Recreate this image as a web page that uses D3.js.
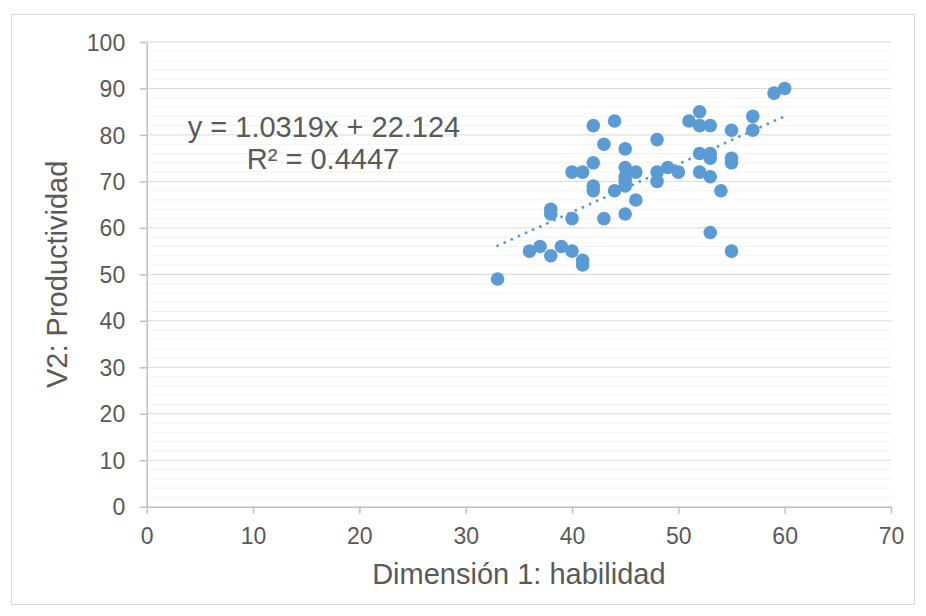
<!DOCTYPE html>
<html>
<head>
<meta charset="utf-8">
<script src="https://cdn.jsdelivr.net/npm/d3@7"></script>
<style>
body{margin:0;background:#fff;}
text{font-family:"Liberation Sans",Arial,sans-serif;}
</style>
</head>
<body>
<svg id="chart" width="926" height="616"></svg>
<script>
const xValues = [33,36,37,38,38,38,39,40,40,40,41,41,41,42,42,42,42,43,43,44,44,45,45,45,45,45,45,46,46,48,48,48,49,50,51,52,52,52,52,53,53,53,53,53,54,55,55,55,55,57,57,59,60];
const yValues = [49,55,56,54,63,64,56,55,62,72,53,52,72,82,74,69,68,78,62,83,68,77,73,71,70,69,63,72,66,79,72,70,73,72,83,85,82,76,72,82,76,75,71,59,68,81,75,74,55,84,81,89,90];
const xTicks = [0,10,20,30,40,50,60,70];
const yTicks = [0,10,20,30,40,50,60,70,80,90,100];
const slope = 1.0319, intercept = 22.124, r2 = 0.4447;
const xTitle = "Dimensión 1: habilidad";
const yTitle = "V2: Productividad";
const eqText = "y = 1.0319x + 22.124";
const r2Text = "R² = 0.4447";

const svg = d3.select("#chart");
const L = 146.7, R = 891, T = 42, B = 506.7;
const x = d3.scaleLinear().domain([0,70]).range([L,R]);
const y = d3.scaleLinear().domain([0,100]).range([B,T]);

svg.append("rect").attr("x",11.5).attr("y",14.5).attr("width",903).attr("height",590)
  .attr("fill","#fff").attr("stroke","#d9d9d9");

// minor gridlines
svg.append("g").selectAll("line").data(d3.range(0,101,2).filter(v=>v%10!==0)).join("line")
  .attr("x1",L).attr("x2",R).attr("y1",d=>y(d)).attr("y2",d=>y(d))
  .attr("stroke","#f2f2f2").attr("stroke-width",1);
// major gridlines
svg.append("g").selectAll("line").data(yTicks.filter(v=>v>0)).join("line")
  .attr("x1",L).attr("x2",R).attr("y1",d=>y(d)).attr("y2",d=>y(d))
  .attr("stroke","#d9d9d9").attr("stroke-width",1);

// axes
const xAxis = svg.append("g").attr("transform",`translate(0,${B})`)
  .call(d3.axisBottom(x).tickValues(xTicks).tickSize(7).tickPadding(14).tickSizeOuter(0));
const yAxis = svg.append("g").attr("transform",`translate(${L},0)`)
  .call(d3.axisLeft(y).tickValues(yTicks).tickSize(7).tickPadding(14.5).tickSizeOuter(0));
[xAxis,yAxis].forEach(a=>{
  a.select(".domain").attr("stroke","#bfbfbf").attr("stroke-width",1.5);
  a.selectAll(".tick line").attr("stroke","#bfbfbf").attr("stroke-width",1.5);
  a.selectAll(".tick text").attr("fill","#595959").attr("font-size","23px")
   .attr("font-family","'Liberation Sans',Arial,sans-serif");
});
yAxis.selectAll(".tick text").attr("dy","0.35em");

// trendline
const tl = d3.line().x(d=>x(d)).y(d=>y(slope*d+intercept));
svg.append("path").datum([d3.min(xValues), d3.max(xValues)])
  .attr("d",tl).attr("fill","none").attr("stroke","#5B9BD5").attr("stroke-width",3)
  .attr("stroke-linecap","round").attr("stroke-dasharray","0 7.8");

// points
svg.append("g").selectAll("circle").data(xValues.map((v,i)=>[v,yValues[i]])).join("circle")
  .attr("cx",d=>x(d[0])).attr("cy",d=>y(d[1])).attr("r",6.8).attr("fill","#5B9BD5");

// equation
svg.append("text").attr("x",324).attr("y",137).attr("text-anchor","middle")
  .attr("font-size","29px").attr("fill","#595959").text(eqText);
svg.append("text").attr("x",323).attr("y",168.5).attr("text-anchor","middle")
  .attr("font-size","29px").attr("fill","#595959").text(r2Text);

// titles
svg.append("text").attr("x",(L+R)/2).attr("y",584).attr("text-anchor","middle")
  .attr("font-size","29px").attr("fill","#595959").text(xTitle);
svg.append("text").attr("transform",`translate(67,${(T+B)/2}) rotate(-90)`).attr("text-anchor","middle")
  .attr("font-size","29px").attr("fill","#595959").text(yTitle);
</script>
</body>
</html>
